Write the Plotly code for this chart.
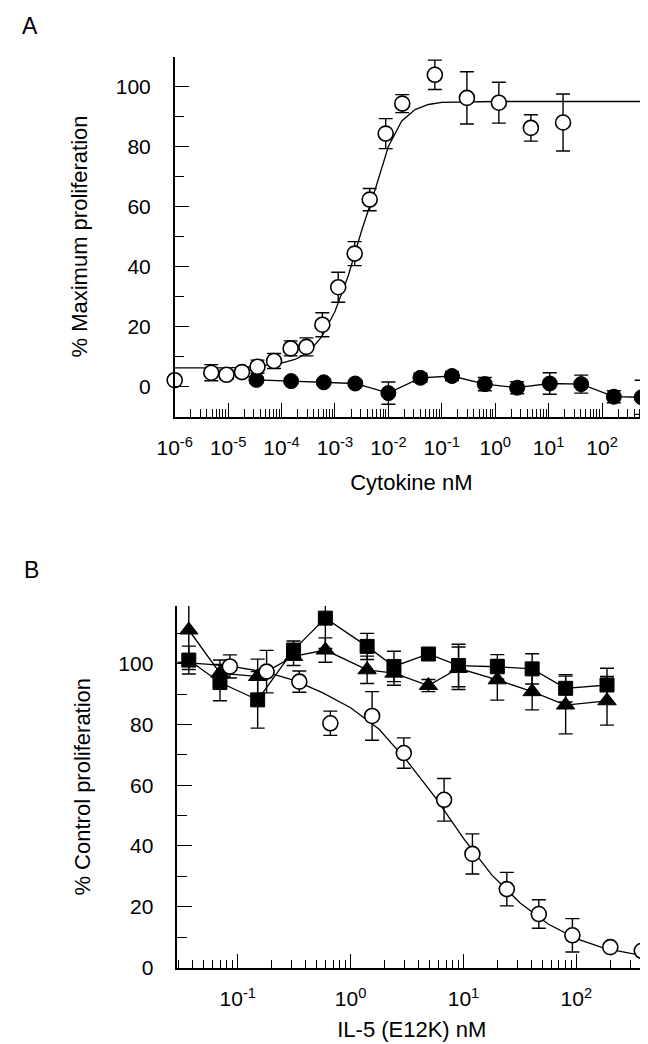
import plotly.graph_objects as go

# ---------------- Panel A data ----------------
a_open_x = [1.0e-6, 4.84e-6, 9.33e-6, 1.82e-5, 3.55e-5, 7.24e-5, 1.48e-4, 2.92e-4, 5.81e-4,
            1.15e-3, 2.34e-3, 4.47e-3, 8.91e-3, 1.82e-2, 7.41e-2, 0.295, 1.17, 4.65, 18.6]
a_open_y = [2.1, 4.6, 3.9, 4.8, 6.6, 8.5, 12.7, 13.2, 20.6,
            33.1, 44.3, 62.3, 84.3, 94.3, 103.9, 96.2, 94.6, 86.2, 88.0]
a_open_err = [0, 2.7, 1.5, 1.5, 2.2, 2.5, 2.5, 3.0, 4.0,
              5.0, 4.0, 3.7, 5.0, 3.0, 4.9, 8.7, 6.8, 4.4, 9.5]

a_fit_x = [1e-6, 1e-5, 3.16e-5, 1e-4, 1.78e-4, 3.16e-4, 5.62e-4, 1e-3, 1.78e-3, 3.16e-3,
           5.62e-3, 1e-2, 1.78e-2, 3.16e-2, 5.62e-2, 0.1, 1.0, 10.0, 590.0]
a_fit_y = [6.2, 6.2, 6.6, 7.8, 9.0, 11.3, 16.5, 25.0, 37.0, 52.0,
           65.5, 80.0, 88.5, 92.3, 94.0, 94.7, 95.0, 95.0, 95.0]

a_closed_x = [3.39e-5, 1.51e-4, 6.17e-4, 2.40e-3, 1.0e-2, 3.98e-2, 0.155, 0.638, 2.57,
              10.5, 40.7, 166.0, 550.0]
a_closed_y = [2.2, 1.8, 1.4, 1.0, -2.2, 2.9, 3.5, 0.8, -0.4, 1.0, 0.8, -3.4, -3.6]
a_closed_err = [1.0, 1.0, 1.0, 1.0, 3.7, 1.5, 1.5, 2.2, 2.0, 3.6, 3.0, 2.0, 5.7]

a_tickvals = [1e-6, 1e-5, 1e-4, 1e-3, 1e-2, 1e-1, 1e0, 1e1, 1e2]
a_ticktext = ["10<sup>-6</sup>", "10<sup>-5</sup>", "10<sup>-4</sup>", "10<sup>-3</sup>",
              "10<sup>-2</sup>", "10<sup>-1</sup>", "10<sup>0</sup>", "10<sup>1</sup>",
              "10<sup>2</sup>"]
a_yticks = [0, 20, 40, 60, 80, 100]

# ---------------- Panel B data ----------------
b_sq_x = [0.0368, 0.0695, 0.150, 0.312, 0.597, 1.40, 2.42, 4.89, 9.04, 19.95, 40.6, 80.4, 187.0]
b_sq_y = [101.2, 93.8, 88.1, 104.5, 115.0, 105.7, 99.1, 103.2, 99.4, 99.0, 98.3, 91.9, 93.0]
b_sq_err = [4.6, 6.0, 9.3, 3.0, 10.0, 4.3, 5.0, 0.0, 7.0, 4.0, 5.0, 4.5, 5.5]

b_tri_x = [0.0368, 0.0695, 0.150, 0.312, 0.597, 1.40, 2.42, 4.89, 9.04, 19.95, 40.6, 80.4, 187.0]
b_tri_y = [111.1, 96.9, 95.8, 102.4, 104.5, 98.0, 96.9, 92.8, 98.5, 94.7, 90.8, 86.4, 87.8]
b_tri_err = [13.0, 4.3, 5.7, 3.0, 4.0, 4.5, 4.0, 2.0, 7.0, 6.7, 6.0, 9.5, 8.0]

b_open_x = [0.0851, 0.180, 0.351, 0.661, 1.55, 2.96, 6.73, 12.0, 24.2, 46.5, 92.3, 200.0, 380.0]
b_open_y = [99.1, 97.4, 94.1, 80.4, 82.8, 70.6, 55.2, 37.4, 25.8, 17.6, 10.6, 6.7, 5.5]
b_open_err = [3.8, 7.0, 3.5, 4.0, 8.0, 5.0, 7.0, 6.6, 5.5, 4.7, 5.5, 0.0, 0.0]

b_fit_x = [0.0291, 0.0562, 0.1, 0.178, 0.316, 0.562, 1.0, 1.78, 3.16, 5.62, 10.0,
           17.8, 31.6, 56.2, 100.0, 178.0, 398.0]
b_fit_y = [100.5, 99.8, 98.8, 97.2, 94.5, 90.5, 85.5, 78.5, 68.0, 56.0, 42.5,
           30.5, 21.3, 14.3, 9.5, 6.3, 3.8]

b_tickvals = [1e-1, 1e0, 1e1, 1e2]
b_ticktext = ["10<sup>-1</sup>", "10<sup>0</sup>", "10<sup>1</sup>", "10<sup>2</sup>"]
b_yticks = [0, 20, 40, 60, 80, 100]

# ---------------- Figure geometry ----------------
W, H = 648, 1044
ML, MR, MT, MB = 160, 0, 40, 40
PW, PH = W - ML - MR, H - MT - MB


def fx(px):
    return (px - ML) / PW


def fy(py):
    return 1 - (py - MT) / PH


FONT = "Liberation Sans, Arial, Helvetica, sans-serif"
BLK = "black"

fig = go.Figure()


def err(arr):
    return dict(type="data", array=arr, visible=True, color=BLK, thickness=1.4, width=7)


# Panel A
fig.add_trace(go.Scatter(x=a_fit_x, y=a_fit_y, mode="lines", line=dict(color=BLK, width=1.3),
                         xaxis="x", yaxis="y", hoverinfo="skip", cliponaxis=False))
fig.add_trace(go.Scatter(x=a_closed_x, y=a_closed_y, mode="lines+markers",
                         line=dict(color=BLK, width=1.3),
                         marker=dict(symbol="circle", size=15, color=BLK, line=dict(color=BLK, width=1)),
                         error_y=err(a_closed_err), xaxis="x", yaxis="y", cliponaxis=False))
fig.add_trace(go.Scatter(x=a_open_x, y=a_open_y, mode="markers",
                         marker=dict(symbol="circle", size=15, color="white", line=dict(color=BLK, width=1.6)),
                         error_y=err(a_open_err), xaxis="x", yaxis="y", cliponaxis=False))

# Panel B
fig.add_trace(go.Scatter(x=b_fit_x, y=b_fit_y, mode="lines", line=dict(color=BLK, width=1.3),
                         xaxis="x2", yaxis="y2", hoverinfo="skip", cliponaxis=False))
fig.add_trace(go.Scatter(x=b_tri_x, y=b_tri_y, mode="lines+markers",
                         line=dict(color=BLK, width=1.3),
                         marker=dict(symbol="triangle-up", size=16, color=BLK, line=dict(color=BLK, width=1)),
                         error_y=err(b_tri_err), xaxis="x2", yaxis="y2", cliponaxis=False))
fig.add_trace(go.Scatter(x=b_sq_x, y=b_sq_y, mode="lines+markers",
                         line=dict(color=BLK, width=1.3),
                         marker=dict(symbol="square", size=14, color=BLK, line=dict(color=BLK, width=1)),
                         error_y=err(b_sq_err), xaxis="x2", yaxis="y2", cliponaxis=False))
fig.add_trace(go.Scatter(x=b_open_x, y=b_open_y, mode="markers",
                         marker=dict(symbol="circle", size=15, color="white", line=dict(color=BLK, width=1.6)),
                         error_y=err(b_open_err), xaxis="x2", yaxis="y2", cliponaxis=False))

tickfont = dict(family=FONT, size=21, color=BLK)
titlefont = dict(family=FONT, size=22, color=BLK)

xcommon = dict(type="log", showline=True, linecolor=BLK, linewidth=1.5, showgrid=False, zeroline=False,
               ticks="inside", ticklen=14, tickwidth=1.3, tickcolor=BLK, tickfont=tickfont,
               tickmode="array", automargin=False,
               minor=dict(ticks="inside", ticklen=8, tickwidth=1.1, tickcolor=BLK, dtick="D1", showgrid=False),
               ticklabelstandoff=12)
ycommon = dict(showline=True, linecolor=BLK, linewidth=1.5, showgrid=False, zeroline=False,
               ticks="inside", ticklen=15, tickwidth=1.3, tickcolor=BLK, tickfont=tickfont,
               tickmode="array", automargin=False,
               minor=dict(ticks="inside", ticklen=10, tickwidth=1.3, tickcolor=BLK, dtick=10, tick0=0, showgrid=False),
               ticklabelstandoff=18)

fig.update_layout(
    width=W, height=H, margin=dict(l=ML, r=MR, t=MT, b=MB, autoexpand=False),
    paper_bgcolor="white", plot_bgcolor="white", showlegend=False,
    font=dict(family=FONT, color=BLK),
    xaxis=dict(**xcommon, domain=[fx(166.7), fx(640)], range=[-6, 2.86],
               tickvals=a_tickvals, ticktext=a_ticktext, anchor="y",
               title=dict(text="Cytokine nM", font=titlefont, standoff=16)),
    yaxis=dict(**ycommon, domain=[fy(408.5), fy(48.5)], range=[-10, 110],
               tickvals=a_yticks, anchor="x",
               title=dict(text="% Maximum proliferation", font=titlefont, standoff=22)),
    xaxis2=dict(**xcommon, domain=[fx(169.3), fx(638.3)], range=[-1.536, 2.62],
                tickvals=b_tickvals, ticktext=b_ticktext, anchor="y2",
                title=dict(text="IL-5 (E12K) nM", font=titlefont, standoff=12)),
    yaxis2=dict(**ycommon, domain=[fy(959.5), fy(598)], range=[0, 119],
                tickvals=b_yticks, anchor="x2",
                title=dict(text="% Control proliferation", font=titlefont, standoff=22)),
    annotations=[
        dict(text="A", x=fx(22), y=fy(18), xref="paper", yref="paper", showarrow=False,
             font=dict(family=FONT, size=23, color=BLK), xanchor="center", yanchor="middle"),
        dict(text="B", x=fx(23), y=fy(562), xref="paper", yref="paper", showarrow=False,
             font=dict(family=FONT, size=23, color=BLK), xanchor="center", yanchor="middle"),
    ],
)

fig.write_html("out.html")
